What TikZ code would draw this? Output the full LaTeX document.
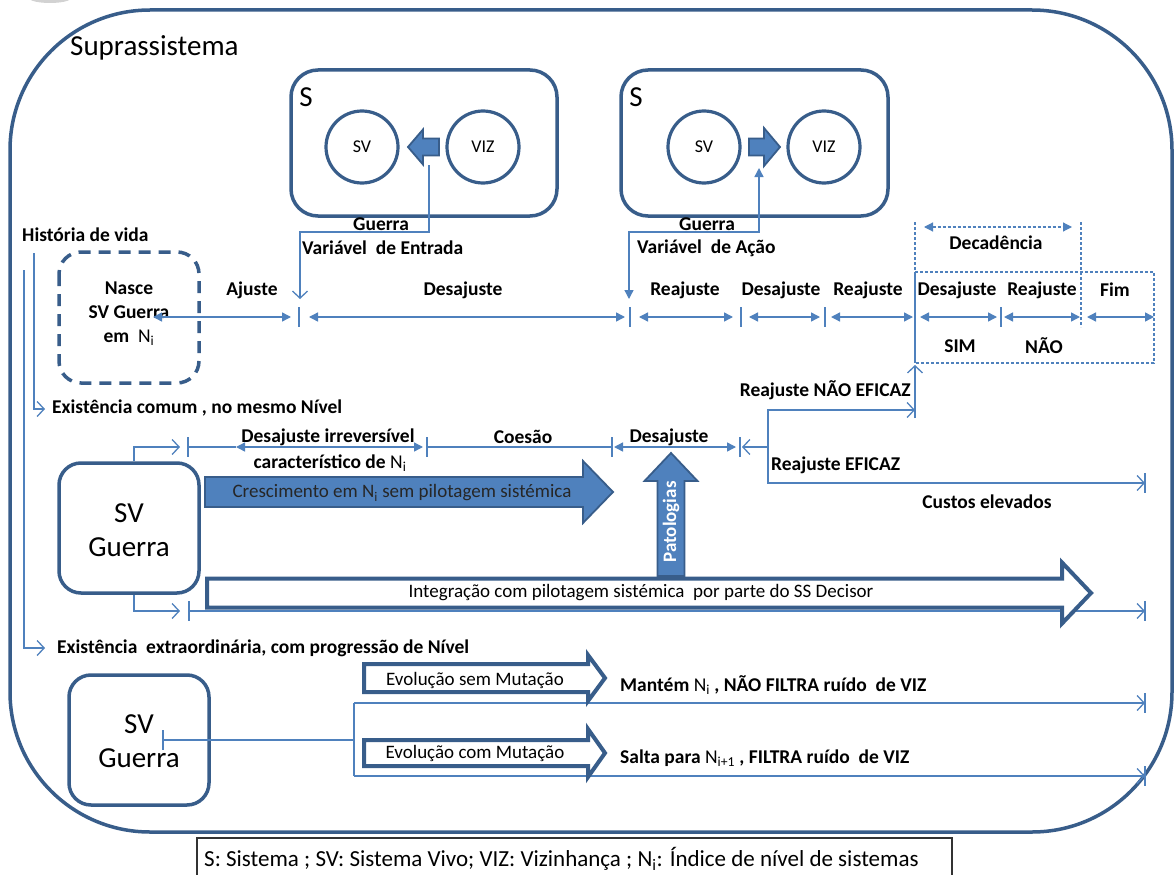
\documentclass[tikz,border=0pt]{standalone}
\usepackage{fontspec}
\setmainfont{Carlito}
\usetikzlibrary{arrows.meta}
\definecolor{bdr}{RGB}{56,93,138}
\definecolor{ln}{RGB}{79,129,189}
\definecolor{fillb}{RGB}{79,129,189}
\newcommand\hArrow[8]{% name, style, tail, base, tip, yc, shaft hh, head hh
  \draw[#2] (#3,{#6-#7}) -- (#4,{#6-#7}) -- (#4,{#6-#8}) -- (#5,#6) -- (#4,{#6+#8}) -- (#4,{#6+#7}) -- (#3,{#6+#7}) -- cycle;
  \coordinate (#1) at ({(#3+#5)/2},#6);}
\newcommand\vArrow[8]{% name, style, xc, tail, base, tip, shaft hw, head hw
  \draw[#2] ({#3-#7},#4) -- ({#3-#7},#5) -- ({#3-#8},#5) -- (#3,#6) -- ({#3+#8},#5) -- ({#3+#7},#5) -- ({#3+#7},#4) -- cycle;
  \coordinate (#1) at (#3,{(#4+#6)/2});}
\tikzset{
  outerbox/.style={draw=bdr, line width=3.5pt, rounded corners=140pt},
  sbox/.style={draw=bdr, line width=3.5pt, rounded corners=27pt},
  svbox/.style={draw=bdr, line width=3.5pt, rounded corners=22pt, fill=white},
  nascebox/.style={draw=bdr, line width=3.5pt, rounded corners=22pt, dash pattern=on 12pt off 8pt},
  circ/.style={circle, draw=bdr, line width=3.2pt, minimum size=72pt, inner sep=0pt, font=\fontsize{18}{18}\selectfont},
  conn/.style={draw=ln, line width=1.4pt},
  dconn/.style={draw=ln, line width=1.2pt, dash pattern=on 3pt off 2pt},
  opentip/.style={-{Straight Barb[length=7pt,width=15pt,line width=1.3pt]}},
  tri/.style={{Triangle[length=9pt,width=9pt]}-{Triangle[length=9pt,width=9pt]}},
  filledarrow/.style={draw=bdr, line width=1.8pt, fill=fillb},
  hollowarrow/.style={draw=bdr, line width=4pt, fill=white},
  lbl/.style={font=\bfseries\fontsize{19.5}{19.5}\selectfont, inner sep=0pt},
  txt/.style={font=\fontsize{19}{19}\selectfont, inner sep=0pt},
  big/.style={font=\fontsize{29}{34}\selectfont, inner sep=0pt, align=center},
}
\newcommand\Ni{{\mdseries N\textsubscript{i}}}
\begin{document}
\begin{tikzpicture}[x=1pt,y=-1pt]
\useasboundingbox (0,0) rectangle (1176,875);
\fill[white] (0,0) rectangle (1176,875);
% partial logo
\fill[gray!35] (50,-2) ellipse [x radius=21, y radius=5];
% outer suprassistema
\draw[outerbox] (10,10) rectangle (1172,832);
\node[font=\fontsize{29}{29}\selectfont, anchor=west, inner sep=0pt] (supra) at (70,48) {Suprassistema};

% ---- S box 1
\draw[sbox] (291,70) rectangle (557,216);
\node[font=\fontsize{29}{29}\selectfont, inner sep=0pt] (s1) at (306,97) {S};
\node[circ] (sv1) at (362,147) {SV};
\node[circ] (viz1) at (483,147) {VIZ};
\hArrow{a1}{filledarrow}{439}{423}{408}{147}{8.5}{17.5}
\coordinate (a1b) at (429,165);
% ---- S box 2
\draw[sbox] (621,70) rectangle (888,216);
\node[font=\fontsize{29}{29}\selectfont, inner sep=0pt] (s2) at (636,97) {S};
\node[circ] (sv2) at (704,147) {SV};
\node[circ] (viz2) at (824,147) {VIZ};
\hArrow{a2}{filledarrow}{749}{764}{780}{147}{8.5}{19}
\coordinate (a2b) at (759,168);

% Guerra connectors
\coordinate (ent) at (300,299);
\draw[conn, opentip] (a1b) |- (300,232) -- (ent);
\node[lbl] (g1) at (381,224) {Guerra};
\node[lbl, anchor=west] (ve) at (302,248) {Variável\ \ de Entrada};
\coordinate (acao) at (629,299);
\draw[conn, tri] (acao) |- (759,232) -- (a2b);
\node[lbl] (g2) at (707,224) {Guerra};
\node[lbl, anchor=west] (va) at (637,248) {Variável\ \ de Ação};

% História de vida
\node[lbl, anchor=west] (hist) at (22,235) {História de vida};

% Nasce box
\draw[nascebox] (59,252) rectangle (199,383);
\node[lbl, align=center, font=\bfseries\fontsize{19.5}{24}\selectfont] (nasce) at (129,314) {Nasce\\SV Guerra\\em\ \ \Ni};

% top timeline
\foreach \x in {299,630,741,825}{\draw[conn] (\x,307) -- (\x,327);}
\draw[conn, tri] (153,317) -- (291,317);
\draw[conn, tri] (309,317) -- (625,317);
\draw[conn, tri] (639,317) -- (733,317);
\draw[conn, tri] (749,317) -- (820,317);
\draw[conn, tri] (831,317) -- (913,317);
\draw[conn, tri] (920,317) -- (997,317);
\draw[conn, tri] (1004,317) -- (1080,317);
\draw[conn, tri] (1087,317) -- (1154,317);
\draw[conn] (1001,307) -- (1001,327);
% Decadência
\draw[dconn] (915,222) -- (915,272);
\draw[dconn] (1081,222) -- (1081,327);
\draw[dconn, tri] (924,227) -- (1072,227);
\draw[dconn] (915,272) -- (1154,272) -- (1154,363) -- (915,363);
\draw[conn] (915,272) -- (915,363);
\node[lbl] (dec) at (996,243) {Decadência};
\node[lbl] (l1) at (252,290) {Ajuste};
\node[lbl] (l2) at (463,290) {Desajuste};
\node[lbl] (l3) at (685,290) {Reajuste};
\node[lbl] (l4) at (781,290) {Desajuste};
\node[lbl] (l5) at (868,290) {Reajuste};
\node[lbl] (l6) at (957,290) {Desajuste};
\node[lbl] (l7) at (1042,290) {Reajuste};
\node[lbl] (l8) at (1115,290) {Fim};
\node[lbl] (sim) at (960,346) {SIM};
\node[lbl] (nao) at (1044,346) {NÃO};

% left guides
\coordinate (ec) at (45,409);
\coordinate (ee) at (45,648);
\draw[conn, line width=1.2pt, opentip] (34,253) |- (ec);
\draw[conn, line width=1.2pt, opentip] (24,270) |- (ee);
\node[lbl, anchor=west] (exc) at (52,408) {Existência comum , no mesmo Nível};
\node[lbl, anchor=west] (exe) at (57,648) {Existência\ \ extraordinária, com progressão de Nível};

% SV Guerra box 2 (middle)
\node[svbox, minimum width=140pt, minimum height=130pt] (svg2) at (129,528) {};
\node[big] (svg2t) at (129,530) {SV\\Guerra};
% middle timeline
\draw[conn, opentip] ([xshift=5pt]svg2.north) |- (180,447);
\draw[conn] (188,437) -- (188,457);
\draw[conn] (188,447) -- (236,447);
\draw[conn, tri] (236,447) -- (423,447);
\draw[conn] (427,437) -- (427,457);
\draw[conn] (427,447) -- (612,447);
\draw[conn] (612,437) -- (612,457);
\draw[conn, tri] (614,447) -- (736,447);
\draw[conn] (740,437) -- (740,457);
\coordinate (br) at (768,447);
\draw[conn, opentip] (br) -- (742,447);
\draw[conn, opentip] (br) |- (915,410);
\draw[conn, opentip] (915,418) -- (915,365);
\draw[conn, opentip] (br) |- (1145,483);
\draw[conn] (1145,473) -- (1145,493);
\node[lbl] (dirr) at (328,437) {Desajuste irreversível};
\node[lbl] (carac) at (330,463) {característico de \Ni};
\node[lbl] (coes) at (523,437) {Coesão};
\node[lbl] (desm) at (669,437) {Desajuste};
\node[lbl, anchor=east] (rne) at (911,390) {Reajuste NÃO EFICAZ};
\node[lbl, anchor=west] (re) at (771,465) {Reajuste EFICAZ};
\node[lbl] (custos) at (987,502) {Custos elevados};

% crescimento arrow
\hArrow{cresc}{filledarrow}{205}{583}{613}{492}{15}{31}
\node[txt, text=black!85] (crt) at (402,493) {Crescimento em \Ni{} sem pilotagem sistémica};

% bottom line of middle section
\draw[conn, opentip] ([xshift=5pt]svg2.south) |- (180,611);
\draw[conn] (189,601) -- (189,621);
\draw[conn, opentip] (189,611) -- (1145,611);
\draw[conn] (1145,601) -- (1145,621);
% integração arrow
\hArrow{integ}{hollowarrow}{207}{1062}{1091}{593}{14.5}{30.5}
\node[txt] (intt) at (641,593) {Integração com pilotagem sistémica\ \ por parte do SS Decisor};
% patologias arrow
\vArrow{pat}{filledarrow}{671}{576}{481}{453}{13.5}{26.5}
\node[lbl, text=white, rotate=90, font=\bfseries\fontsize{19}{19}\selectfont] (patt) at (671,522) {Patologias};

% bottom section
\node[svbox, minimum width=140pt, minimum height=130pt] (svg3) at (139,740) {};
\node[big] (svg3t) at (139,741) {SV\\Guerra};
\coordinate (svc) at (163,740);
\draw[conn] (163,730) -- (163,750);
\draw[conn] (svc) -- (354,740);
\draw[conn] (354,703) -- (354,776);
\draw[conn, opentip] (354,703) -- (1145,703);
\draw[conn] (1145,693) -- (1145,713);
\draw[conn, opentip] (354,776) -- (1145,776);
\draw[conn] (1145,766) -- (1145,786);
\hArrow{esm}{hollowarrow}{364}{588}{605}{678}{14}{23}
\hArrow{ecm}{hollowarrow}{364}{588}{605}{753}{13}{24}
\node[txt] (esmt) at (475,680) {Evolução sem Mutação};
\node[txt] (ecmt) at (475,753) {Evolução com Mutação};
\node[lbl, anchor=west] (mant) at (620,685) {Mantém \Ni\ , NÃO FILTRA ruído\ \ de VIZ};
\node[lbl, anchor=west] (salt) at (620,758) {Salta para {\mdseries N\textsubscript{i+1}} , FILTRA ruído\ \ de VIZ};

% legend
\draw[draw=black!80, line width=1.2pt] (197,890) -- (197,838) -- (952,838) -- (952,890);
\node[font=\fontsize{23}{23}\selectfont, anchor=west, inner sep=0pt] (leg) at (204,859) {S: Sistema ; SV: Sistema Vivo; VIZ: Vizinhança ; N\textsubscript{i}: Índice de nível de sistemas};
\end{tikzpicture}
\end{document}
